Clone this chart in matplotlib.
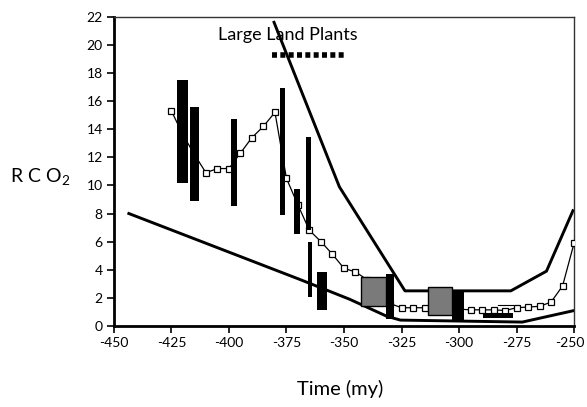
import matplotlib.pyplot as plt
import matplotlib.transforms as mtransforms

# CO2 proxy curve (open squares)
proxy_t = [-425, -420, -415, -410, -405, -400, -395, -390, -385, -380,
           -375, -370, -365, -360, -355, -350, -345, -340, -335, -330,
           -325, -320, -315, -310, -305, -300, -295, -290, -285, -280,
           -275, -270, -265, -260, -255, -250]
proxy_r = [15.3, 13.6, 12.2, 10.9, 11.2, 11.2, 12.3, 13.4, 14.2, 15.2,
           10.5, 8.6, 6.8, 6.0, 5.1, 4.1, 3.85, 3.3, 2.4, 1.6,
           1.3, 1.3, 1.3, 1.3, 1.25, 1.2, 1.15, 1.15, 1.15, 1.1,
           1.3, 1.35, 1.4, 1.7, 2.85, 5.9]

# model envelope
upper_t = [-380.4, -352, -323.5, -277.5, -262, -250.5]
upper_r = [21.6, 9.9, 2.5, 2.5, 3.9, 8.2]
lower_t = [-443.5, -369, -347.5, -331.5, -325.5, -272.5, -250]
lower_r = [8.0, 3.3, 1.9, 0.7, 0.42, 0.28, 1.1]

# black range bars
bar_t0 = [-422.6, -417.0, -399.1, -377.8, -371.7, -366.5, -365.7, -361.7, -331.7, -303.0, -289.6]
bar_t1 = [-417.8, -413.0, -396.5, -375.7, -369.1, -364.3, -364.0, -357.4, -328.3, -297.8, -276.5]
bar_lo = [10.2, 8.9, 8.5, 7.9, 6.55, 6.8, 2.05, 1.15, 0.5, 0.35, 0.55]
bar_hi = [17.5, 15.6, 14.7, 16.9, 9.75, 13.45, 6.0, 3.85, 3.7, 2.55, 0.9]

# grey boxes
box_t0 = [-342.6, -313.5]
box_t1 = [-331.7, -303.0]
box_lo = [1.4, 0.75]
box_hi = [3.5, 2.8]

# land plants span
plants_t = [-381.3, -349.6]
plants_r = 19.3

plt.rcParams.update({
    "font.family": ["Lato", "DejaVu Sans"],
    "axes.unicode_minus": False,
    "mathtext.fontset": "custom",
    "mathtext.rm": "Lato",
})

fig = plt.figure(figsize=(5.87, 4.07), dpi=100)
ax = fig.add_axes([0.194, 0.199, 0.784, 0.760])

ax.plot(upper_t, upper_r, color="black", lw=2.1, zorder=2)
ax.plot(lower_t, lower_r, color="black", lw=2.1, zorder=2)

ax.plot(proxy_t, proxy_r, color="black", lw=0.9, marker="s", markersize=4.2,
        markerfacecolor="white", markeredgecolor="black", markeredgewidth=0.9, zorder=3)

widths = [b - a for a, b in zip(bar_t0, bar_t1)]
heights = [h - l for l, h in zip(bar_lo, bar_hi)]
ax.bar(bar_t0, heights, width=widths, bottom=bar_lo, align="edge",
       color="black", edgecolor="none", zorder=4)

bw = [b - a for a, b in zip(box_t0, box_t1)]
bh = [h - l for l, h in zip(box_lo, box_hi)]
ax.bar(box_t0, bh, width=bw, bottom=box_lo, align="edge",
       color="#7a7a7a", edgecolor="black", linewidth=1.0, zorder=4)

# thin mark above the flat bar
ax.plot([-283, -276.5], [1.5, 1.5], color="black", lw=0.8, zorder=3)

ax.plot(plants_t, [plants_r, plants_r], color="black", lw=4, dashes=(0.9, 0.6),
        dash_capstyle="butt", zorder=3)
ax.text(-374.5, 20.7, "Large Land Plants", fontsize=13, ha="center", va="center")

ax.set_xlim(-450, -250)
ax.set_ylim(0, 22)
ax.set_xticks(range(-450, -249, 25))
ax.set_yticks(range(0, 23, 2))
ax.tick_params(direction="out", length=5, width=1.2, labelsize=10, pad=3)

# nudge the last x label so it stays inside the figure
last = ax.get_xticklabels()[-1]
last.set_transform(last.get_transform() + mtransforms.ScaledTranslation(-4 / 100, 0, fig.dpi_scale_trans))

for side in ["left", "bottom"]:
    ax.spines[side].set_linewidth(2.0)
for side in ["top", "right"]:
    ax.spines[side].set_linewidth(1.0)
    ax.spines[side].set_color("#333333")

fig.text(0.017, 0.565, r"R C O$_2$", fontsize=14, ha="left", va="center")
fig.text(0.58, 0.045, "Time (my)", fontsize=14.5, ha="center", va="center")

fig.savefig("out.png", dpi=100)
